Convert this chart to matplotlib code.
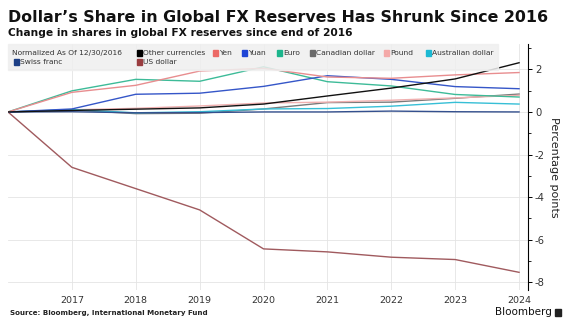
# dollar share in global FX reserves, change since end of 2016
import matplotlib.pyplot as plt
import numpy as np
from matplotlib.patches import Rectangle
from matplotlib.ticker import MultipleLocator

years = [2016, 2017, 2018, 2019, 2020, 2021, 2022, 2023, 2024]

other = [0, 0.07, 0.13, 0.19, 0.37, 0.75, 1.12, 1.55, 2.31]
yen = [0, 0.92, 1.25, 1.92, 2.05, 1.64, 1.58, 1.74, 1.85]
yuan = [0, 0.14, 0.83, 0.88, 1.2, 1.7, 1.53, 1.19, 1.09]
euro = [0, 0.99, 1.53, 1.44, 2.12, 1.42, 1.22, 0.82, 0.7]
cad = [0, 0.09, -0.08, -0.06, 0.14, 0.44, 0.46, 0.64, 0.84]
pound = [0, 0.1, 0.17, 0.28, 0.42, 0.46, 0.55, 0.66, 0.78]
aud = [0, 0.11, -0.04, 0.01, 0.14, 0.16, 0.27, 0.45, 0.37]
swiss = [0, 0.01, -0.04, -0.03, 0.0, 0.0, 0.04, 0.01, 0.0]
usd = [0, -2.6, -3.6, -4.6, -6.43, -6.57, -6.82, -6.93, -7.53]

names = ["Other currencies", "Yen", "Yuan", "Euro", "Canadian dollar",
         "Pound", "Australian dollar", "Swiss franc", "US dollar"]
series = [other, yen, yuan, euro, cad, pound, aud, swiss, usd]
colors = ["#000000", "#ec6a66", "#1f45d6", "#1db58c", "#6a6a6a",
          "#f4a9a8", "#1cb9d3", "#1d3f86", "#9a3d40"]
line_colors = ["#111111", "#e88d8f", "#3556c8", "#3dbb98", "#7a7a7a",
               "#f0b0b0", "#36bfd6", "#34508e", "#a05a5e"]

plt.rcParams['font.family'] = ['DejaVu Sans']

fig = plt.figure(figsize=(5.74, 3.28), dpi=100)
ax = fig.add_axes([8/574, 1-290/328, 520/574, 246/328])

# draw the dollar first so the small ones sit on top
order = [8, 4, 5, 6, 7, 3, 2, 1, 0]
for i in order:
    ax.plot(years, series[i], color=line_colors[i], lw=1.0)

ax.set_xlim(2016, 2024.14)
ax.set_ylim(-8.36, 3.19)
ax.set_xticks(years[1:])
ax.set_xticklabels([str(y) for y in years[1:]], fontsize=6.8, color="#333333")
ax.yaxis.tick_right()
ax.yaxis.set_major_locator(MultipleLocator(2))
ax.yaxis.set_minor_locator(MultipleLocator(1))
ax.set_yticks([2, 0, -2, -4, -6, -8])
ax.set_yticklabels(["2", "0", "-2", "-4", "-6", "-8"], fontsize=7.2, color="#333333")
ax.tick_params(axis='x', length=0, pad=4)
ax.tick_params(axis='y', which='major', length=3, width=0.7, pad=2, direction='out')
ax.tick_params(axis='y', which='minor', length=2, width=0.6, direction='out')
for s in ['top', 'left', 'bottom']:
    ax.spines[s].set_visible(False)
ax.spines['right'].set_linewidth(0.8)
ax.grid(True, which='major', color='#e4e4e4', lw=0.6)
ax.set_axisbelow(True)
ax.set_ylabel("Percentage points", rotation=270, fontsize=8, color="#222222", labelpad=10)
ax.yaxis.set_label_position("right")

# legend band at the top of the plot
fig.patches.append(Rectangle((8/574, 1-70/328), 490/574, 26/328,
                             transform=fig.transFigure, color="#efefef", alpha=0.85, zorder=3))
fs = 5.4
fig.text(12/574, 1-53/328, "Normalized As Of 12/30/2016", fontsize=fs, color="#333333",
         va='center', zorder=4)
leg_pos = [(137, 53), (213, 53), (242, 53), (277, 53), (310, 53),
           (384, 53), (426, 53), (14, 62), (137, 62)]
for (px, py), name, c in zip(leg_pos, names, colors):
    fig.patches.append(Rectangle((px/574, 1-(py+2.5)/328), 5/574, 5/328,
                                 transform=fig.transFigure, color=c, zorder=4))
    fig.text((px+6)/574, 1-py/328, name, fontsize=fs, color="#333333", va='center', zorder=4)

fig.text(8/574, 1-17/328, "Dollar\u2019s Share in Global FX Reserves Has Shrunk Since 2016",
         fontsize=11.4, fontweight='bold', va='center', color="#111111")
fig.text(8/574, 1-33/328, "Change in shares in global FX reserves since end of 2016",
         fontsize=7.7, fontweight='bold', va='center', color="#111111")
fig.text(10/574, 1-313/328, "Source: Bloomberg, International Monetary Fund",
         fontsize=5.1, fontweight='bold', va='center', color="#222222")
fig.text(552/574, 1-312/328, "Bloomberg", fontsize=7.5, va='center', ha='right', color="#111111")
fig.patches.append(Rectangle((555/574, 1-316/328), 6/574, 7/328,
                             transform=fig.transFigure, color="#222222"))

plt.savefig('out.png', dpi=100)
